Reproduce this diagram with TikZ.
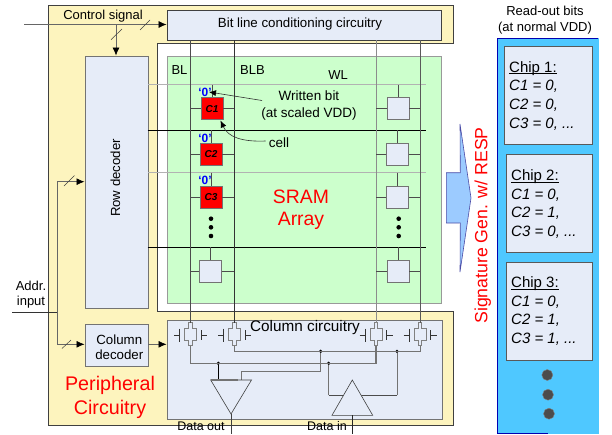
\documentclass[tikz,border=0pt]{standalone}
\usepackage{fontspec}
\setmainfont{Liberation Sans}
\usetikzlibrary{arrows.meta}
\definecolor{periyellow}{HTML}{FDF4BE}
\definecolor{arraygreen}{HTML}{CCFFCC}
\definecolor{blockblue}{HTML}{E6ECF8}
\definecolor{panelcyan}{HTML}{4FC8FF}
\definecolor{blockarrow}{HTML}{9CCBFF}
\newcommand{\fs}[1]{\fontsize{#1}{#1}\selectfont}
\tikzset{
	blockbox/.style={draw=black!55, fill=blockblue, line width=.9pt, inner sep=0pt},
	memcell/.style={blockbox, minimum width=22pt, minimum height=22pt},
	redcell/.style={memcell, fill=red, font=\fs{10}\bfseries\itshape},
	chipbox/.style={draw=black!65, fill=blockblue, line width=.9pt, anchor=north west, minimum width=86pt, minimum height=98pt, inner sep=0pt},
	chiptext/.style={anchor=north west, align=left, inner sep=0pt, font=\fs{15}\itshape},
	zerobit/.style={text=blue, font=\fs{12}\bfseries, inner sep=0pt},
	label/.style={font=\fs{13}, inner sep=0pt},
	redlabel/.style={text=red, align=center, inner sep=0pt},
	wire/.style={draw=black!70, line width=.7pt},
	wltop/.style={draw=black!30, line width=1.3pt},
	wlblack/.style={draw=black, line width=.6pt},
	sigarrow/.style={wire, -{Latex[black,length=8pt,width=7pt]}, draw=black!60},
	bigdot/.style={circle, fill=black!70, draw=black!50, minimum size=11pt, inner sep=0pt},
	smalldot/.style={circle, fill=black, minimum size=3.6pt, inner sep=0pt},
	arraydot/.style={circle, fill=black, minimum size=4.6pt, inner sep=0pt},
}
\begin{document}
\begin{tikzpicture}[x=1pt, y=-1pt]
	\useasboundingbox (0,0) rectangle (612,434) ;
	\fill[white] (0,0) rectangle (612,434) ;
	\draw[fill=periyellow, draw=black!75, line width=.8pt] (48.7,5.3) -- (453,5.3) -- (453,43) -- (157,43) -- (157,311) -- (453,311) -- (453,425) -- (48.7,425) -- cycle ;
	\node (arraybg)[draw=black!40, fill=arraygreen, anchor=north west, minimum width=274.5pt, minimum height=246.5pt, inner sep=0pt] at (166.5,56) {} ;
	\node (blc)[blockbox, draw=black!75, anchor=north west, minimum width=274.5pt, minimum height=30pt] at (166.5,9.5) {} ;
	\node (blctext)[label, font=\fs{13.3}] at (300,24.5) {Bit line conditioning circuitry} ;
	\node (rowdec)[blockbox, anchor=north west, minimum width=63pt, minimum height=252.5pt] at (84.5,55.5) {} ;
	\node (rowtext)[label, rotate=90, font=\fs{13.2}] at (115.5,178) {Row decoder} ;
	\node (coldec)[blockbox, anchor=north west, minimum width=63pt, minimum height=42.5pt] at (84.5,323.7) {} ;
	\node (coltop)[label, font=\fs{13.3}] at (119.3,339.5) {Column} ;
	\node (colbot)[label, font=\fs{13.3}] at (119.3,355) {decoder} ;
	\node (colcirc)[blockbox, anchor=north west, minimum width=275.8pt, minimum height=99.3pt] at (166.5,319.7) {} ;
	\node (coltext)[label, font=\fs{15.3}] at (305,328) {Column circuitry} ;

	\node (bl)[label] at (179.5,70) {BL} ;
	\node (blb)[label] at (252.5,70) {BLB} ;
	\node (wl)[label] at (338,75) {WL} ;

	\node (c1)[redcell] at (212,108.7) {C1} ;
	\node (c2)[redcell] at (211,154) {C2} ;
	\node (c3)[redcell] at (211,197) {C3} ;
	\node (c4)[memcell] at (210.5,271.3) {} ;
	\node (r1)[memcell] at (398,108.7) {} ;
	\node (r2)[memcell] at (397.5,154) {} ;
	\node (r3)[memcell] at (397.5,197) {} ;
	\node (r4)[memcell] at (398,271.3) {} ;
	\node (z1)[zerobit] at (205,92) {‘0’} ;
	\node (z2)[zerobit] at (205,138) {‘0’} ;
	\node (z3)[zerobit] at (205,180) {‘0’} ;

	\foreach \y/\n/\s in {84.7/1/wltop, 130.3/2/wlblack, 172.7/3/wltop, 247.3/4/wlblack} {
		\coordinate (wla\n) at (147.5,\y) ;
		\coordinate (wlb\n) at (426,\y) ;
		\draw[\s] (wla\n) -- (wlb\n) ;
		\draw[wire] (c\n.north |- wla\n) -- (c\n.north) ;
		\draw[wire] (r\n.north |- wla\n) -- (r\n.north) ;
	}

	\foreach \x/\n/\c in {190.3/1/70, 234.3/2/80, 376/3/45, 420/4/65} {
		\begin{scope}[shift={(\x,335)}]
			\coordinate (tt\n) at (0,-12.3) ;
			\coordinate (tb\n) at (0,10.7) ;
			\draw[draw=black!50, fill=blockblue, line width=.6pt] (-1.7,-12.3) -- (-1.7,-7) -- (-5.8,-7) -- (-5.8,5.7) -- (-1.7,5.7) -- (-1.7,10.7) -- (1.7,10.7) -- (1.7,5.7) -- (5.8,5.7) -- (5.8,-7) -- (1.7,-7) -- (1.7,-12.3) -- cycle ;
			\draw[draw=black!80, line width=.5pt] (-16.3,0) -- (-11,0) (-11,-6.5) -- (-11,6.5) ;
			\draw[draw=black!80, line width=.5pt] (16.6,0) -- (10.6,0) (10.6,-5) -- (10.6,5) ;
		\end{scope}
		\draw[draw=black!\c, line width=.8pt] (blc.south -| tt\n) -- (tt\n) ;
	}

	\foreach \n in {1,2,3,4} {
		\draw[wire] (c\n.west -| tt1) -- (c\n.west) ;
		\draw[wire] (c\n.east) -- (c\n.east -| tt2) ;
		\draw[wire] (r\n.west -| tt3) -- (r\n.west) ;
		\draw[wire] (r\n.east) -- (r\n.east -| tt4) ;
	}

	\node (d1)[arraydot] at (211,218.7) {} ;
	\node (d2)[arraydot] at (211,227.3) {} ;
	\node (d3)[arraydot] at (211,236) {} ;
	\node (d4)[arraydot] at (398.7,218.7) {} ;
	\node (d5)[arraydot] at (398.7,227.3) {} ;
	\node (d6)[arraydot] at (398.7,236) {} ;

	\node (wbit)[label, font=\fs{13.5}, align=center] at (309,105.5) {Written bit\\[3.5pt](at scaled VDD)} ;
	\node (cell)[label, font=\fs{13.5}] at (279,143) {cell} ;
	\coordinate (wbitend) at (262,100.5) ;
	\coordinate (wbittip) at (209,92) ;
	\coordinate (celltip) at (220.5,120.5) ;
	\draw[draw=black!80, line width=.6pt, -{Latex[black,length=7pt,width=6pt]}] (wbitend) -- (wbittip) ;
	\draw[draw=black!80, line width=.6pt, -{Latex[black,length=7pt,width=6pt]}] (cell.west) ++(-3,-2) .. controls (242,142) and (228,137) .. (celltip) ;

	\node (sram)[redlabel, font=\fs{19.4}] at (301,197) {SRAM} ;
	\node (arr)[redlabel, font=\fs{19.4}] at (301,221) {Array} ;
	\node (peri)[redlabel, font=\fs{19.7}] at (110,385) {Peripheral} ;
	\node (circ)[redlabel, font=\fs{19.7}] at (110,409) {Circuitry} ;

	\node (ctrl)[label] at (103,16.5) {Control signal} ;
	\coordinate (ctrlin) at (24,24.5) ;
	\coordinate (ctrljn) at (116,24.5) ;
	\draw[sigarrow] (ctrlin) -- (blc.west |- ctrlin) ;
	\draw[sigarrow] (ctrljn) -- (rowdec.north -| ctrljn) ;
	\draw[draw=black!75, line width=.5pt] (140,30) -- (150,20) (111,39.7) -- (122,29) ;

	\node (addr)[label] at (31,286) {Addr.} ;
	\node (inp)[label] at (31,302) {input} ;
	\coordinate (addrin) at (12,312.7) ;
	\coordinate (addrjn) at (57.3,312.7) ;
	\coordinate (addrup) at (57.3,181.7) ;
	\coordinate (addrdn) at (57.3,344.3) ;
	\draw[draw=black!80, line width=.6pt] (addrin) -- (addrjn) ;
	\draw[sigarrow] (addrjn) -- (addrup) -- (rowdec.west |- addrup) ;
	\draw[sigarrow] (addrjn) -- (addrdn) -- (coldec.west |- addrdn) ;
	\draw[sigarrow] (coldec.east |- addrdn) -- (colcirc.west |- addrdn) ;
	\draw[draw=black!75, line width=.5pt] (64,186) -- (74.5,175.5) (62,348.5) -- (71,340) ;

	\node (jn1)[smalldot] at (218.3,363.3) {} ;
	\node (jn2)[smalldot] at (320.7,351.3) {} ;
	\node (jn3)[smalldot] at (397,351.3) {} ;
	\node (jn4)[smalldot] at (328.7,363.3) {} ;
	\coordinate (readtop) at (241.7,380) ;
	\coordinate (readcorner) at (241.7,371.8) ;
	\coordinate (drvleft) at (328.7,395.3) ;
	\coordinate (drvright) at (397,395.3) ;
	\draw[draw=black!55, line width=1.2pt] (tb1) -- (tb1 |- jn1) -- (tb3 |- jn1) -- (tb3) ;
	\draw[draw=black!55, line width=.8pt] (tb2) -- (tb2 |- jn2) -- (tb4 |- jn2) -- (tb4) ;
	\draw[draw=black!55, line width=1.2pt] (jn2) -- (jn2 |- readcorner) -- (readcorner) -- (readtop) ;
	\draw[draw=black, line width=.8pt] (jn1) -- (jn1 |- readtop) ;
	\draw[draw=black!55, line width=.7pt] (jn4) -- (drvleft) ;
	\draw[draw=black!55, line width=.7pt] (drvright) -- (jn3) ;
	\draw[draw=black!70, line width=.7pt] (drvleft) -- (drvright) ;

	\coordinate (rda) at (210.7,380) ;
	\coordinate (rdb) at (251.5,380) ;
	\coordinate (rdc) at (231,414) ;
	\coordinate (dra) at (352.3,380) ;
	\coordinate (drb) at (332,415.3) ;
	\coordinate (drc) at (372.7,415.3) ;
	\coordinate (dataout) at (231,434) ;
	\coordinate (datain) at (352.3,434) ;
	\draw[draw=black!75, fill=blockblue, line width=.6pt] (rda) -- (rdb) -- (rdc) -- cycle ;
	\draw[draw=black!55, line width=1.2pt] (rda) -- (238,380) ;
	\draw[draw=black!75, fill=blockblue, line width=.6pt] (dra) -- (drb) -- (drc) -- cycle ;
	\draw[draw=black!75, line width=.7pt] (rdc) -- (dataout) ;
	\draw[draw=black!85, line width=.7pt] (drb -| dra) -- (datain) ;
	\node (doutx)[label, font=\fs{12.5}, anchor=base] at (201,430.5) {Data out} ;
	\node (dinx)[label, font=\fs{12.5}, anchor=base] at (327,430.5) {Data in} ;

	\draw[draw=blue!50!black!70, fill=blockarrow, line width=.6pt] (446.3,172.7) -- (460.3,172.7) -- (460,124) -- (471,198) -- (460,272) -- (460.3,223) -- (446.3,223) -- cycle ;
	\node (sig)[redlabel, rotate=90, font=\fs{17.7}] at (482.7,225.5) {Signature Gen. w/ RESP} ;

	\node (readout)[label, align=center] at (545,20) {Read-out bits\\[3.5pt](at normal VDD)} ;
	\node (panel)[draw=blue!70!black, fill=panelcyan, anchor=north west, minimum width=100.7pt, minimum height=395pt, inner sep=0pt] at (497,38.3) {} ;
	\draw[draw=panelcyan, line width=1pt] (panel.north east) -- (panel.south east) -- (panel.south) ;
	\node (chipa)[chipbox, minimum width=87.4pt] at (504.3,46.3) {} ;
	\node (chipb)[chipbox] at (505.7,154.3) {} ;
	\node (chipc)[chipbox] at (505.7,261.7) {} ;
	\node (ta)[chiptext] at (509,72) {\underline{\smash{\upshape Chip 1:}}\\[3.6pt]C1 = 0,\\[3.6pt]C2 = 0,\\[3.6pt]C3 = 0, ...} ;
	\node (tb)[chiptext] at (511,180.5) {\underline{\smash{\upshape Chip 2:}}\\[3.6pt]C1 = 0,\\[3.6pt]C2 = 1,\\[3.6pt]C3 = 0, ...} ;
	\node (tc)[chiptext] at (511,287.5) {\underline{\smash{\upshape Chip 3:}}\\[3.6pt]C1 = 0,\\[3.6pt]C2 = 1,\\[3.6pt]C3 = 1, ...} ;
	\node (more1)[bigdot] at (547.3,375) {} ;
	\node (more2)[bigdot] at (548,394.7) {} ;
	\node (more3)[bigdot] at (549,413.7) {} ;
\end{tikzpicture}
\end{document}
